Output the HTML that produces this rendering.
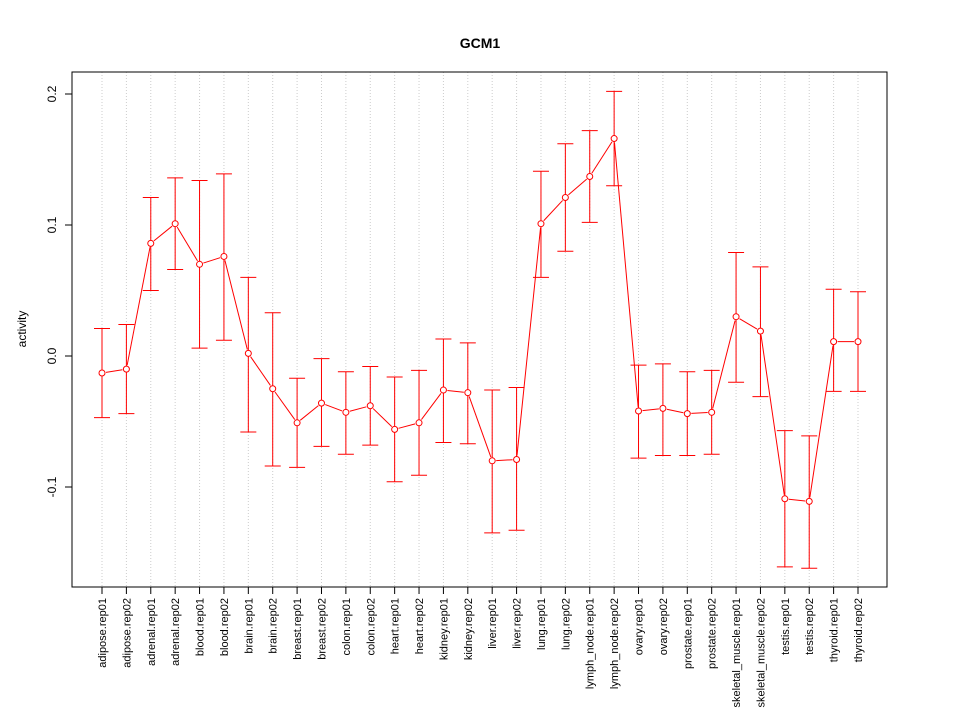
<!DOCTYPE html>
<html><head><meta charset="utf-8">
<style>
html,body{margin:0;padding:0;background:#fff;}
svg{display:block;font-family:"Liberation Sans",Arial,sans-serif;}
</style></head>
<body>
<svg id="chart" width="960" height="720" viewBox="0 0 960 720">
<text x="480" y="48" text-anchor="middle" font-size="14" font-weight="bold">GCM1</text>
<text transform="translate(26,329) rotate(-90)" text-anchor="middle" font-size="12">activity</text>
<g id="grid"></g>
<g id="marks"></g>
<g id="axes"></g>
<rect x="72" y="72" width="815" height="515" fill="none" stroke="#000" stroke-width="1"/>
</svg>
<script>
const categories = ["adipose.rep01","adipose.rep02","adrenal.rep01","adrenal.rep02","blood.rep01","blood.rep02","brain.rep01","brain.rep02","breast.rep01","breast.rep02","colon.rep01","colon.rep02","heart.rep01","heart.rep02","kidney.rep01","kidney.rep02","liver.rep01","liver.rep02","lung.rep01","lung.rep02","lymph_node.rep01","lymph_node.rep02","ovary.rep01","ovary.rep02","prostate.rep01","prostate.rep02","skeletal_muscle.rep01","skeletal_muscle.rep02","testis.rep01","testis.rep02","thyroid.rep01","thyroid.rep02"];
const means = [-0.013,-0.010,0.086,0.101,0.070,0.076,0.002,-0.025,-0.051,-0.036,-0.043,-0.038,-0.056,-0.051,-0.026,-0.028,-0.080,-0.079,0.101,0.121,0.137,0.166,-0.042,-0.040,-0.044,-0.043,0.030,0.019,-0.109,-0.111,0.011,0.011];
const upper = [0.021,0.024,0.121,0.136,0.134,0.139,0.060,0.033,-0.017,-0.002,-0.012,-0.008,-0.016,-0.011,0.013,0.010,-0.026,-0.024,0.141,0.162,0.172,0.202,-0.007,-0.006,-0.012,-0.011,0.079,0.068,-0.057,-0.061,0.051,0.049];
const lower = [-0.047,-0.044,0.050,0.066,0.006,0.012,-0.058,-0.084,-0.085,-0.069,-0.075,-0.068,-0.096,-0.091,-0.066,-0.067,-0.135,-0.133,0.060,0.080,0.102,0.130,-0.078,-0.076,-0.076,-0.075,-0.020,-0.031,-0.161,-0.162,-0.027,-0.027];
const yTicks = [-0.1,0.0,0.1,0.2];
const yTickLabels = ["-0.1","0.0","0.1","0.2"];

const NS="http://www.w3.org/2000/svg";
function xs(i){return 102 + i*(858-102)/(categories.length-1);}
function ys(v){return 356 - v*1310;}
function mk(tag,attrs,parent){const e=document.createElementNS(NS,tag);for(const k in attrs)e.setAttribute(k,attrs[k]);parent.appendChild(e);return e;}
const grid=document.getElementById('grid'),marks=document.getElementById('marks'),axes=document.getElementById('axes');

categories.forEach((c,i)=>{
  const x=xs(i);
  const g=mk('line',{x1:x,x2:x,y1:72,y2:587,stroke:'#ccc','stroke-dasharray':'1,2'},grid);
  
  
  const t=mk('line',{x1:x,x2:x,y1:587,y2:594,stroke:'#000'},axes);
  
  
  const lb=mk('text',{transform:`translate(${x+4},598) rotate(-90)`,'text-anchor':'end','font-size':'11'},axes);
  lb.textContent=c;
  
  
});
yTicks.forEach((v,i)=>{
  const y=ys(v);
  const t=mk('line',{x1:65,x2:72,y1:y,y2:y,stroke:'#000'},axes);
  
  
  const lb=mk('text',{transform:`translate(56,${y}) rotate(-90)`,'text-anchor':'middle','font-size':'12'},axes);
  lb.textContent=yTickLabels[i];
  
  
});
const r=3;
for(let i=0;i<categories.length-1;i++){
  const x1=xs(i),y1=ys(means[i]),x2=xs(i+1),y2=ys(means[i+1]);
  const dx=x2-x1,dy=y2-y1,d=Math.hypot(dx,dy);
  if(d<2*r+1)continue;
  const ux=dx/d,uy=dy/d;
  const s=mk('line',{x1:x1+ux*(r+1),y1:y1+uy*(r+1),x2:x2-ux*(r+1),y2:y2-uy*(r+1),stroke:'red'},marks);
  
  
}
categories.forEach((c,i)=>{
  const x=xs(i),yu=ys(upper[i]),yl=ys(lower[i]);
  const e=mk('path',{d:`M${x},${yu}V${yl}M${x-8},${yu}H${x+8}M${x-8},${yl}H${x+8}`,stroke:'red',fill:'none'},marks);
  
  
  const p=mk('circle',{cx:x,cy:ys(means[i]),r:r,fill:'#fff',stroke:'red'},marks);
  
  
});
</script>
</body></html>
